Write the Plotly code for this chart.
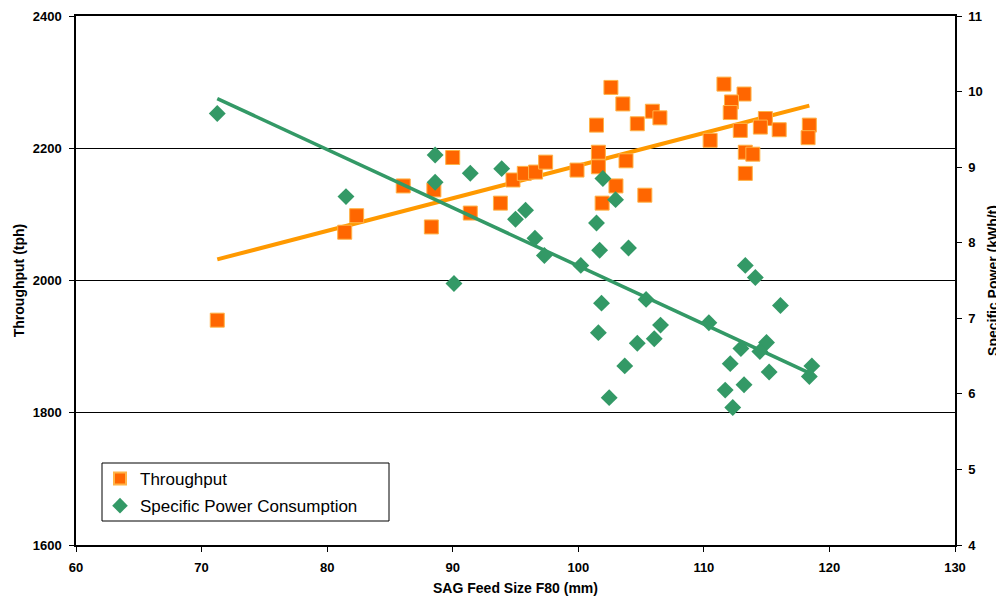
import numpy as np
import plotly.graph_objects as go

# Throughput data (left axis)
tp_x = [71.25, 81.4, 82.35, 86.06, 88.5, 88.3, 90.0, 91.4, 93.8, 94.8, 95.7, 96.6, 97.4,
        99.9, 101.45, 101.6, 101.6, 101.9, 102.6, 103.0, 103.55, 103.8, 104.7, 105.3,
        105.9, 106.5, 110.5, 111.6, 113.2, 112.2, 112.1, 112.9, 114.9, 114.5, 116.0,
        118.4, 118.3, 113.3, 113.9, 113.3]
tp_y = [1940, 2073, 2098, 2143, 2137, 2081, 2186, 2102, 2117, 2152, 2162, 2164, 2179,
        2167, 2235, 2194, 2172, 2117, 2292, 2143, 2267, 2181, 2237, 2129,
        2256, 2246, 2212, 2297, 2282, 2270, 2254, 2227, 2245, 2232, 2228,
        2235, 2216, 2194, 2191, 2162]

# Specific power consumption data (right axis)
sp_x = [71.25, 81.5, 88.6, 88.6, 90.1, 91.4, 93.9, 95.0, 95.8, 96.55, 97.3, 100.2,
        101.96, 102.97, 101.45, 101.7, 104.0, 105.4, 101.85, 101.6, 106.55, 106.05,
        104.7, 103.7, 102.46, 110.4, 113.3, 114.1, 116.1, 112.95, 114.99, 114.46,
        112.1, 115.2, 118.6, 118.4, 111.7, 113.2, 112.3]
sp_y = [9.71, 8.61, 9.16, 8.80, 7.46, 8.92, 8.98, 8.31, 8.43, 8.06, 7.83, 7.70,
        8.85, 8.57, 8.26, 7.90, 7.93, 7.25, 7.20, 6.81, 6.91, 6.73,
        6.67, 6.37, 5.95, 6.94, 7.70, 7.54, 7.17, 6.60, 6.68, 6.56,
        6.40, 6.29, 6.37, 6.23, 6.05, 6.12, 5.82]

x_ticks = [60, 70, 80, 90, 100, 110, 120, 130]
left_ticks = [1600, 1800, 2000, 2200, 2400]
right_ticks = [4, 5, 6, 7, 8, 9, 10, 11]

ORANGE = "#FF6600"
ORANGE_LINE = "#FF9900"
GREEN = "#339966"
FONT = "Liberation Sans, Arial, sans-serif"

# Least-squares trendlines
tp_fit = np.polyfit(tp_x, tp_y, 1)
sp_fit = np.polyfit(sp_x, sp_y, 1)
tp_lx = [min(tp_x), max(tp_x)]
sp_lx = [min(sp_x), max(sp_x)]

fig = go.Figure()
fig.add_trace(go.Scatter(x=tp_lx, y=list(np.polyval(tp_fit, tp_lx)), mode="lines",
                         line=dict(color=ORANGE_LINE, width=4), showlegend=False,
                         hoverinfo="skip"))
fig.add_trace(go.Scatter(x=sp_lx, y=list(np.polyval(sp_fit, sp_lx)), mode="lines",
                         line=dict(color=GREEN, width=3.5), showlegend=False,
                         yaxis="y2", hoverinfo="skip"))
fig.add_trace(go.Scatter(x=tp_x, y=tp_y, mode="markers", name="Throughput",
                         legendgroup="a",
                         marker=dict(symbol="square", size=14, color=ORANGE,
                                     line=dict(color="#FFB347", width=1))))
fig.add_trace(go.Scatter(x=sp_x, y=sp_y, mode="markers", name="Specific Power Consumption",
                         legendgroup="b",
                         marker=dict(symbol="diamond", size=13, color=GREEN,
                                     line=dict(color=GREEN, width=0)),
                         yaxis="y2"))

axis_common = dict(showline=True, linecolor="black", linewidth=1.5, ticks="outside",
                   ticklen=5, tickcolor="black", zeroline=False, automargin=False,
                   tickfont=dict(family=FONT, size=13, color="black", weight="bold"))

fig.update_layout(
    width=996, height=591,
    paper_bgcolor="white", plot_bgcolor="white",
    margin=dict(l=68, r=49, t=8, b=54),
    font=dict(family=FONT, color="black"),
    xaxis=dict(range=[60, 130], tickvals=x_ticks, showgrid=False, mirror=True,
               ticklabelstandoff=5,
               title=dict(text="SAG Feed Size F80 (mm)", standoff=9,
                          font=dict(family=FONT, size=14, weight="bold")),
               **axis_common),
    yaxis=dict(range=[1600, 2400], tickvals=left_ticks, showgrid=True,
               gridcolor="black", gridwidth=1, ticklabelstandoff=5,
               title=dict(text="Throughput (tph)", standoff=5,
                          font=dict(family=FONT, size=14, weight="bold")),
               **axis_common),
    yaxis2=dict(range=[4, 11], tickvals=right_ticks, overlaying="y", side="right",
                showgrid=False, ticklabelstandoff=4,
                title=dict(text="Specific Power (kWh/t)", standoff=6,
                           font=dict(family=FONT, size=14, weight="bold")),
                **axis_common),
    legend=dict(x=(100 - 76) / 879, y=(545 - 461) / 529, xanchor="left", yanchor="top",
                bgcolor="rgba(0,0,0,0)", borderwidth=0,
                font=dict(family=FONT, size=17, color="black"),
                itemsizing="constant", tracegroupgap=2),
    shapes=[dict(type="rect", xref="paper", yref="paper",
                 x0=(102 - 76) / 879, x1=(389 - 76) / 879,
                 y0=(545 - 521) / 529, y1=(545 - 463) / 529,
                 line=dict(color="black", width=1), fillcolor="white", layer="below")],
)

fig.write_html("out.html")
